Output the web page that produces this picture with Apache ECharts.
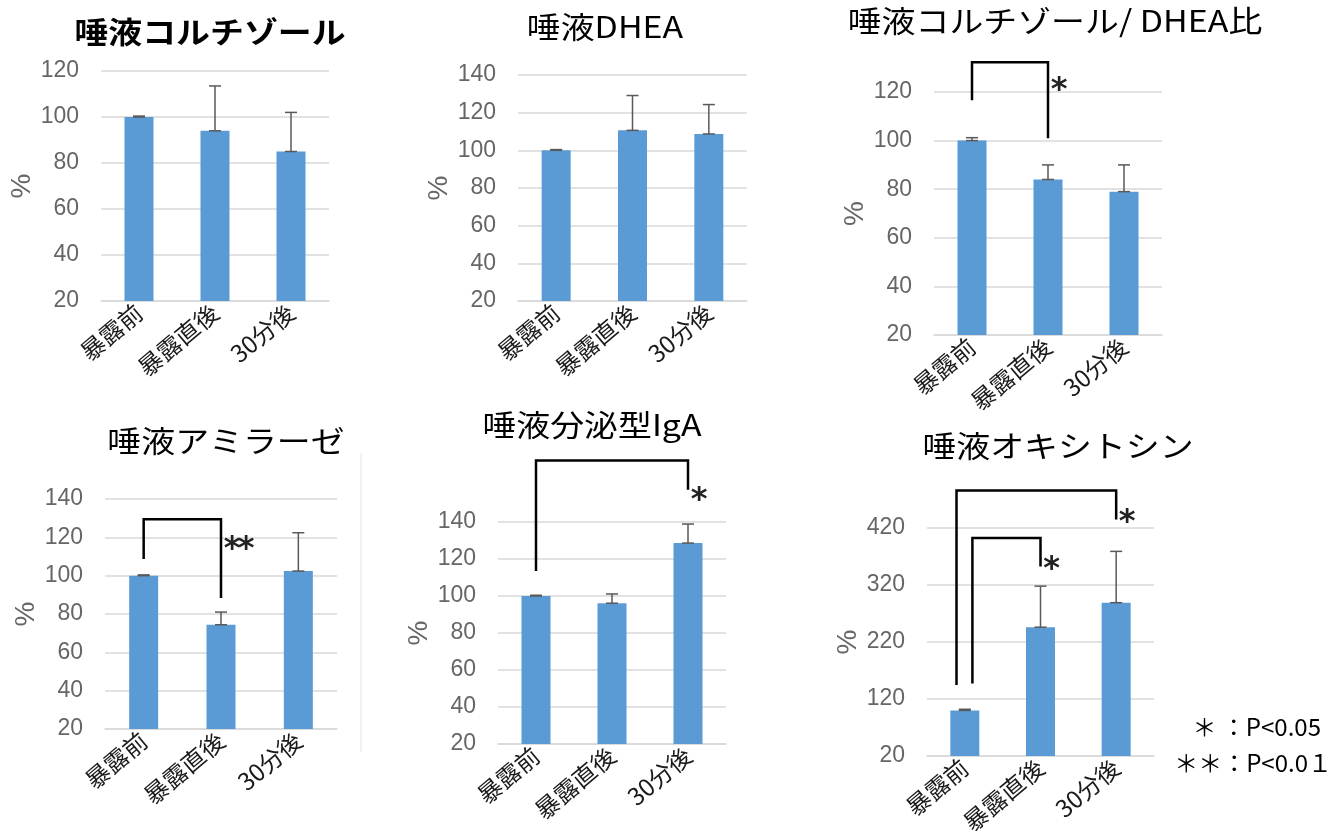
<!DOCTYPE html>
<html>
<head>
<meta charset="utf-8">
<title>唾液ホルモン</title>
<script src="https://cdn.jsdelivr.net/npm/echarts@6/dist/echarts.min.js"></script>
<style>
  html, body { margin: 0; padding: 0; background: #fff; }
  #main { width: 1337px; height: 831px; }
</style>
</head>
<body>
<div id="main"></div>
<script>
// 暴露前 = 100% として正規化した平均値と標準誤差
var categories = ['暴露前', '暴露直後', '30分後'];

var cortisol     = [100, 94, 85];
var cortisolErr  = [0.4, 19.5, 17];
var dhea         = [100, 110.6, 108.7];
var dheaErr      = [0.4, 18.5, 15.6];
var ratio        = [100, 84, 79];
var ratioErr     = [1.2, 6, 11];
var amylase      = [100, 74.4, 102.4];
var amylaseErr   = [0.4, 6.6, 20];
var iga          = [100, 96.1, 128.6];
var igaErr       = [0.4, 5, 10.3];
var oxytocin     = [100, 246, 289];
var oxytocinErr  = [2, 72, 90];

// 有意差の括弧: [左カテゴリ, 右カテゴリ, 左脚下端, 上端, 右脚下端, 星の高さ, 星の数]
var ratioSig    = [[0, 1, 116.6, 132.2, 101, 124, 1]];
var amylaseSig  = [[0, 1, 108.7, 129.5, 88.3, 117.9, 2]];
var igaSig      = [[0, 2, 113.5, 173.3, 157.4, 156, 1]];
var oxytocinSig = [[0, 2, 144.4, 485.8, 434.7, 444, 1],
                   [0, 1, 147.4, 402.5, 352.6, 361, 1]];

var BASE = 20; // 縦軸の下端

var panels = [
  {title: '唾液コルチゾール', bold: true, tx: 210, ty: 32,
   grid: {left: 101, top: 71, width: 228, height: 230}, max: 120, interval: 20,
   mean: cortisol, err: cortisolErr, sig: [], legOff: []},
  {title: '唾液DHEA', tx: 605, ty: 27,
   grid: {left: 518, top: 75, width: 229, height: 226}, max: 140, interval: 20,
   mean: dhea, err: dheaErr, sig: [], legOff: []},
  {title: '唾液コルチゾール/ DHEA比', tx: 1055, ty: 21,
   grid: {left: 934, top: 92, width: 228, height: 243}, max: 120, interval: 20,
   mean: ratio, err: ratioErr, sig: ratioSig, legOff: [0]},
  {title: '唾液アミラーゼ', tx: 226, ty: 441,
   grid: {left: 105, top: 499, width: 232, height: 230}, max: 140, interval: 20,
   mean: amylase, err: amylaseErr, sig: amylaseSig, legOff: [0]},
  {title: '唾液分泌型IgA', tx: 592, ty: 425,
   grid: {left: 498, top: 522, width: 228, height: 222}, max: 140, interval: 20,
   mean: iga, err: igaErr, sig: igaSig, legOff: [0]},
  {title: '唾液オキシトシン', tx: 1058, ty: 446,
   grid: {left: 927, top: 528, width: 227, height: 228}, max: 420, interval: 100,
   mean: oxytocin, err: oxytocinErr, sig: oxytocinSig, legOff: [-0.11, 0.1]}
];

var grids = [], xAxes = [], yAxes = [], series = [], graphics = [];

panels.forEach(function (p, k) {
  grids.push(Object.assign({outerBoundsMode: 'none', containLabel: false}, p.grid));

  xAxes.push({
    type: 'category', gridIndex: k, data: categories,
    axisLine: {lineStyle: {color: '#d9d9d9', width: 1.5}},
    axisTick: {show: false},
    axisLabel: {interval: 0, rotate: 40, margin: 8, color: '#1a1a1a',
                fontSize: 24, fontFamily: 'Noto Sans CJK JP'}
  });

  yAxes.push({
    type: 'value', gridIndex: k, min: 0, max: p.max - BASE, interval: p.interval,
    name: '%', nameLocation: 'middle', nameRotate: 90, nameGap: 64,
    nameTextStyle: {color: '#666', fontSize: 28, fontFamily: 'Liberation Sans'},
    axisLine: {show: false}, axisTick: {show: false},
    splitLine: {lineStyle: {color: '#d9d9d9', width: 1.5}},
    axisLabel: {margin: 22, color: '#666', fontSize: 23,
                fontFamily: 'Liberation Sans',
                formatter: function (v) { return v + BASE; }}
  });

  series.push({
    type: 'bar', xAxisIndex: k, yAxisIndex: k, barWidth: 29,
    itemStyle: {color: '#5b9bd5'},
    data: p.mean.map(function (v) { return v - BASE; })
  });

  series.push({
    type: 'custom', xAxisIndex: k, yAxisIndex: k, z: 5, clip: false,
    data: p.mean.map(function (v, i) { return [i, v - BASE, p.err[i]]; }),
    renderItem: function (params, api) {
      var i = api.value(0), m = api.value(1), e = api.value(2);
      var a = api.coord([i, m]), b = api.coord([i, m + e]);
      var c = 6, st = {stroke: '#595959', lineWidth: 1.5};
      return {type: 'group', children: [
        {type: 'line', shape: {x1: a[0], y1: a[1], x2: b[0], y2: b[1]}, style: st},
        {type: 'line', shape: {x1: b[0] - c, y1: b[1], x2: b[0] + c, y2: b[1]}, style: st},
        {type: 'line', shape: {x1: a[0] - c, y1: a[1], x2: a[0] + c, y2: a[1]}, style: st}
      ]};
    }
  });

  if (p.sig.length) {
    series.push({
      type: 'custom', xAxisIndex: k, yAxisIndex: k, z: 6, clip: false, silent: true,
      data: p.sig.map(function () { return [0, 0]; }),
      renderItem: function (params, api) {
        var s = p.sig[params.dataIndex];
        var band = api.size([1, 0])[0];
        var off = (p.legOff[params.dataIndex] || 0) * band;
        var l0 = api.coord([s[0], s[2] - BASE]), l1 = api.coord([s[0], s[3] - BASE]);
        var r1 = api.coord([s[1], s[3] - BASE]), r0 = api.coord([s[1], s[4] - BASE]);
        var st = api.coord([s[1], s[5] - BASE]);
        var lx = l0[0] + off;
        var children = [{
          type: 'polyline',
          shape: {points: [[lx, l0[1]], [lx, l1[1]], [r1[0], r1[1]], [r0[0], r0[1]]]},
          style: {stroke: '#000', lineWidth: 2.5, fill: null}
        }];
        for (var n = 0; n < s[6]; n++) {
          children.push({type: 'text', x: st[0] + 11 + n * 14, y: st[1] + 8,
            style: {text: '*', fontSize: 32, fontWeight: 'bold', fill: '#222',
                    fontFamily: 'DejaVu Sans', textAlign: 'center', textVerticalAlign: 'middle'}});
        }
        return {type: 'group', children: children};
      }
    });
  }

  graphics.push({
    type: 'text', x: p.tx, y: p.ty, scaleX: 1.13,
    style: {text: p.title, fontSize: 30, fontWeight: p.bold ? 'bold' : 'normal',
            fontFamily: 'Noto Sans CJK JP', fill: '#000',
            textAlign: 'center', textVerticalAlign: 'middle'}
  });
});

// 凡例（有意水準）
graphics.push({type: 'text', x: 1321, y: 727,
  style: {text: '＊ ：P<0.05', fontSize: 24, fontFamily: 'Noto Sans CJK JP', fill: '#000',
          textAlign: 'right', textVerticalAlign: 'middle'}});
graphics.push({type: 'text', x: 1332, y: 763,
  style: {text: '＊＊：P<0.0１', fontSize: 24, fontFamily: 'Noto Sans CJK JP', fill: '#000',
          textAlign: 'right', textVerticalAlign: 'middle'}});
// 左下パネルの右の薄い枠線
graphics.push({type: 'line', shape: {x1: 361, y1: 453, x2: 361, y2: 752},
  style: {stroke: '#e6e6e6', lineWidth: 1}});

var chart = echarts.init(document.getElementById('main'), null, {renderer: 'canvas'});
chart.setOption({
  backgroundColor: '#fff',
  animation: false,
  grid: grids,
  xAxis: xAxes,
  yAxis: yAxes,
  series: series,
  graphic: graphics
});
</script>
</body>
</html>
